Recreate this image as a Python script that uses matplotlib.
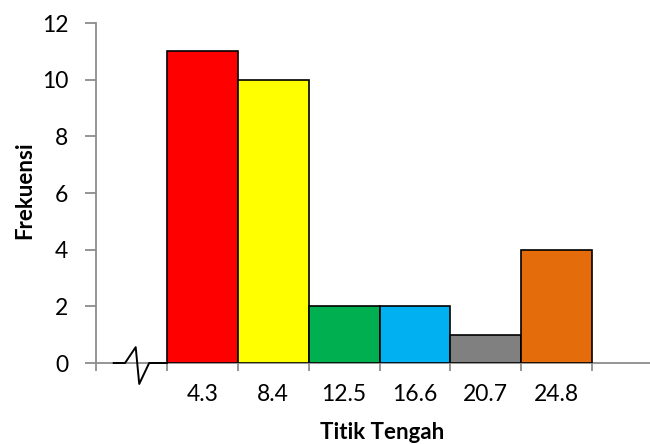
import matplotlib
matplotlib.use("Agg")
import matplotlib.pyplot as plt
import numpy as np

# titik tengah kelas dan frekuensinya
titik_tengah = ["4.3", "8.4", "12.5", "16.6", "20.7", "24.8"]
frekuensi = [11, 10, 2, 2, 1, 4]
warna = ["#FF0000", "#FFFF00", "#00B050", "#00B0F0", "#808080", "#E46C0A"]

# tanda patahan sumbu x di kelas kosong pertama
patahan_x = [0.25, 0.41, 0.56, 0.61, 0.75, 1.0]
patahan_y = [0.0, 0.0, 0.56, -0.74, 0.0, 0.0]

plt.rcParams["font.family"] = ["Lato", "DejaVu Sans"]
abu = "#8C8C8C"

fig = plt.figure(figsize=(6.5, 4.44), dpi=100)
ax = fig.add_axes([96 / 650, 81 / 444, 567 / 650, 340 / 444])

posisi = np.arange(len(frekuensi)) + 1.5
ax.bar(posisi, frekuensi, width=1.0, color=warna, edgecolor="black", linewidth=1.2, zorder=3)

ax.plot(patahan_x, patahan_y, color="black", linewidth=1.4, clip_on=False, zorder=4)

ax.set_xlim(0, 8)
ax.set_ylim(0, 12)
ax.set_yticks(range(0, 13, 2))
ax.set_xticks(range(0, 9))
ax.set_xticklabels([])
ax.set_xticks(posisi, minor=True)
ax.set_xticklabels(titik_tengah, minor=True)

for s in ["top", "right"]:
    ax.spines[s].set_visible(False)
for s in ["left", "bottom"]:
    ax.spines[s].set_color(abu)
    ax.spines[s].set_linewidth(1.3)

ax.tick_params(axis="y", length=8, width=1.3, color=abu, pad=12, labelsize=16.5)
ax.tick_params(axis="x", which="major", length=6, width=1.3, color=abu)
ax.tick_params(axis="x", which="minor", length=0, pad=15, labelsize=16.5)

fig.text(382 / 650, 1 - 432 / 444, "Titik Tengah", fontsize=16, fontweight="bold",
         ha="center", va="center")
fig.text(25 / 650, 1 - 190 / 444, "Frekuensi", fontsize=16, fontweight="bold",
         ha="center", va="center", rotation=90)

fig.savefig("out.png", dpi=100)
